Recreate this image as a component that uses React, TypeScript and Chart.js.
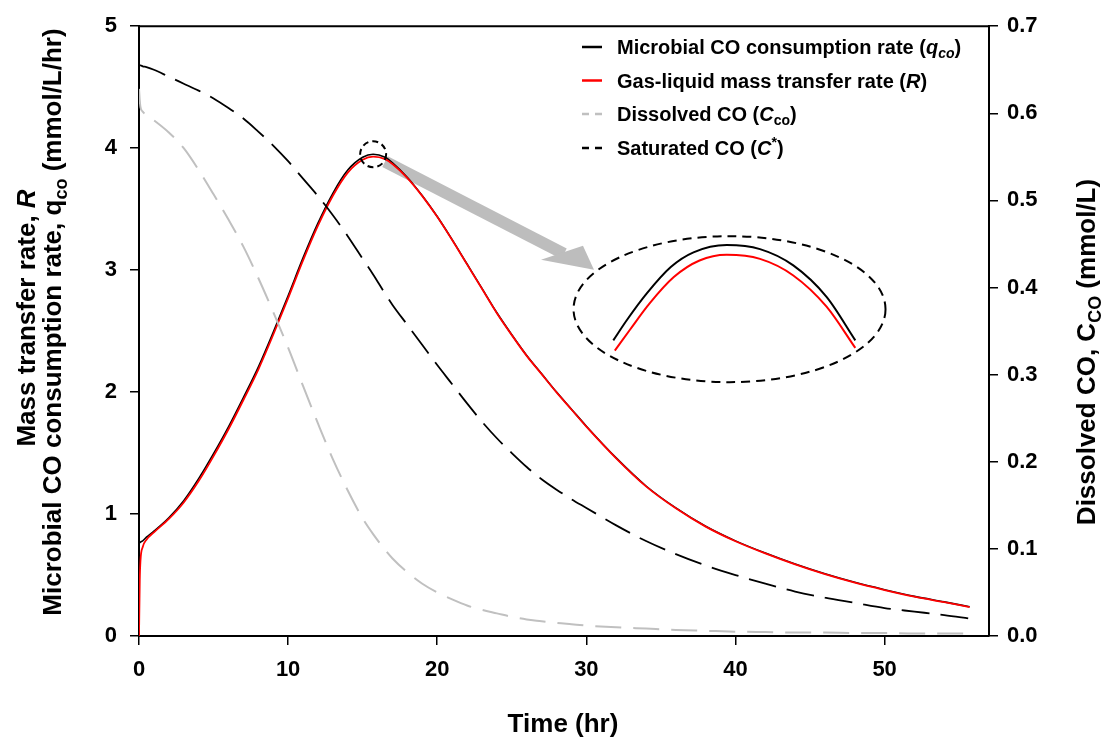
import React, { useEffect, useRef } from "react";
import { Chart, registerables } from "chart.js";

Chart.register(...registerables);

// ---------------- data ----------------
const time = [0, 0.05, 0.1, 0.25, 0.5, 1, 2, 3, 4, 5, 6, 7, 8, 9, 10, 11, 12, 13, 14, 15, 15.7, 16.5, 17, 18, 19, 20, 21, 22, 23, 24, 25, 26, 27, 28, 29, 30, 32, 34, 36, 38, 40, 42, 44, 46, 48, 50, 52, 54, 55.7];

// Microbial CO consumption rate q_co (mmol/L/hr)
const qco = [0.76, 0.765, 0.77, 0.78, 0.81, 0.86, 0.97, 1.11, 1.29, 1.495, 1.715, 1.955, 2.205, 2.49, 2.79, 3.1, 3.385, 3.63, 3.82, 3.925, 3.95, 3.925, 3.88, 3.76, 3.61, 3.44, 3.25, 3.05, 2.85, 2.65, 2.47, 2.3, 2.15, 2.0, 1.86, 1.72, 1.46, 1.23, 1.05, 0.9, 0.78, 0.68, 0.59, 0.51, 0.44, 0.38, 0.325, 0.28, 0.24];

// Gas-liquid mass transfer rate R (mmol/L/hr)
const rateR = [0.0, 0.45, 0.62, 0.73, 0.79, 0.85, 0.96, 1.095, 1.27, 1.475, 1.695, 1.935, 2.185, 2.47, 2.77, 3.08, 3.365, 3.61, 3.8, 3.905, 3.93, 3.91, 3.87, 3.755, 3.607, 3.437, 3.247, 3.047, 2.847, 2.647, 2.467, 2.297, 2.147, 1.997, 1.857, 1.717, 1.457, 1.227, 1.047, 0.897, 0.777, 0.677, 0.587, 0.507, 0.437, 0.377, 0.322, 0.277, 0.237];

// Saturated CO C* (mmol/L)
const cSat = [0.655, 0.655, 0.655, 0.654, 0.653, 0.65, 0.642, 0.634, 0.626, 0.617, 0.606, 0.594, 0.579, 0.563, 0.545, 0.525, 0.505, 0.483, 0.459, 0.433, 0.415, 0.393, 0.38, 0.357, 0.334, 0.311, 0.289, 0.267, 0.246, 0.227, 0.21, 0.194, 0.18, 0.168, 0.157, 0.147, 0.127, 0.109, 0.094, 0.081, 0.07, 0.06, 0.051, 0.044, 0.038, 0.032, 0.028, 0.024, 0.02];

// Dissolved CO C_co (mmol/L)
const cDis = [0.628, 0.615, 0.607, 0.602, 0.598, 0.592, 0.578, 0.56, 0.535, 0.507, 0.478, 0.447, 0.411, 0.372, 0.331, 0.287, 0.244, 0.203, 0.167, 0.135, 0.117, 0.099, 0.089, 0.073, 0.06, 0.05, 0.042, 0.035, 0.03, 0.026, 0.022, 0.019, 0.017, 0.015, 0.0135, 0.012, 0.01, 0.0085, 0.007, 0.006, 0.005, 0.0045, 0.004, 0.004, 0.0035, 0.0035, 0.003, 0.003, 0.003];

// magnified inset of the peak region
const insetTimeQ = [14.9, 14.99, 15.12, 15.28, 15.43, 15.65, 15.87, 16.09, 16.31, 16.5];
const insetQ = [3.9149, 3.9224, 3.9321, 3.9419, 3.9473, 3.95, 3.9485, 3.9425, 3.9309, 3.9149];
const insetTimeR = [14.91, 15.01, 15.14, 15.3, 15.47, 15.65, 15.87, 16.09, 16.31, 16.5];
const insetR = [3.9111, 3.9188, 3.9285, 3.9382, 3.9443, 3.9464, 3.9449, 3.9388, 3.9273, 3.9121];

const xTicks = [0, 10, 20, 30, 40, 50];
const yTicks = [0, 1, 2, 3, 4, 5];
const y2Ticks = [0, 0.1, 0.2, 0.3, 0.4, 0.5, 0.6, 0.7];

const seriesLabels = [
  "Microbial CO consumption rate (qco)",
  "Gas-liquid mass transfer rate (R)",
  "Dissolved CO (Cco)",
  "Saturated CO (C*)",
];

// ---------------- styling / layout ----------------
const FONT = '"Liberation Sans", Arial, Helvetica, sans-serif';
const W = 1106;
const H = 744;
const AREA = { left: 139, right: 989, top: 20, bottom: 636 };
const GRAY = "#c0c0c0";
const ARROW_GRAY = "#bdbdbd";

const INSET_X = { min: 11.764, max: 17.384 };
const INSET_Y = { min: 3.806, max: 4.0306 };

const DECOR = {
  circle: { t: 15.7, v: 3.95, r: 13 },
  ellipse: { t: 39.6, v: 2.68, rx: 156, ry: 73 },
  arrowFrom: { t: 16.5, v: 3.89 },
  arrowTip: { t: 30.51, v: 3.003 },
  barbA: [-53, -10],
  barbB: [-11, -24],
  shaft: 12,
};

type Seg = { t: string; it?: boolean; sub?: boolean; sup?: boolean };

function fontFor(size: number, s: Seg) {
  const sz = s.sub || s.sup ? Math.round(size * 0.68) : size;
  return `${s.it ? "italic " : ""}bold ${sz}px ${FONT}`;
}
function richWidth(ctx: CanvasRenderingContext2D, segs: Seg[], size: number) {
  let w = 0;
  for (const s of segs) {
    ctx.font = fontFor(size, s);
    w += ctx.measureText(s.t).width;
  }
  return w;
}
function drawRich(
  ctx: CanvasRenderingContext2D,
  segs: Seg[],
  x: number,
  y: number,
  size: number,
  align: "left" | "center"
) {
  const w = richWidth(ctx, segs, size);
  let cx = align === "center" ? x - w / 2 : x;
  ctx.textAlign = "left";
  ctx.textBaseline = "alphabetic";
  for (const s of segs) {
    ctx.font = fontFor(size, s);
    const dy = s.sub ? size * 0.22 : s.sup ? -size * 0.38 : 0;
    ctx.fillText(s.t, cx, y + dy);
    cx += ctx.measureText(s.t).width;
  }
}

const legendItems: { segs: Seg[]; color: string; dash: number[] }[] = [
  { segs: [{ t: "Microbial CO consumption rate (" }, { t: "q", it: true }, { t: "co", it: true, sub: true }, { t: ")" }], color: "#000", dash: [] },
  { segs: [{ t: "Gas-liquid mass transfer rate (" }, { t: "R", it: true }, { t: ")" }], color: "#ff0000", dash: [] },
  { segs: [{ t: "Dissolved CO (" }, { t: "C", it: true }, { t: "co", sub: true }, { t: ")" }], color: GRAY, dash: [7, 6] },
  { segs: [{ t: "Saturated CO (" }, { t: "C", it: true }, { t: "*", sup: true }, { t: ")" }], color: "#000", dash: [7, 6] },
];

const overlayPlugin = {
  id: "overlay",
  beforeDatasetsDraw(chart: any) {
    const ctx: CanvasRenderingContext2D = chart.ctx;
    const xs = chart.scales.x;
    const ys = chart.scales.y;
    const sx = xs.getPixelForValue(DECOR.arrowFrom.t);
    const sy = ys.getPixelForValue(DECOR.arrowFrom.v);
    const tx = xs.getPixelForValue(DECOR.arrowTip.t);
    const ty = ys.getPixelForValue(DECOR.arrowTip.v);
    const ax = tx + DECOR.barbA[0], ay = ty + DECOR.barbA[1];
    const bx = tx + DECOR.barbB[0], by = ty + DECOR.barbB[1];
    const mx = (ax + bx) / 2, my = (ay + by) / 2;
    ctx.save();
    ctx.strokeStyle = ARROW_GRAY;
    ctx.fillStyle = ARROW_GRAY;
    ctx.lineWidth = DECOR.shaft;
    ctx.lineCap = "butt";
    ctx.beginPath();
    ctx.moveTo(sx, sy);
    ctx.lineTo(mx + 2, my + 1);
    ctx.stroke();
    ctx.beginPath();
    ctx.moveTo(tx, ty);
    ctx.lineTo(ax, ay);
    ctx.lineTo(bx, by);
    ctx.closePath();
    ctx.fill();
    ctx.restore();
  },
  afterDatasetsDraw(chart: any) {
    const ctx: CanvasRenderingContext2D = chart.ctx;
    const a = chart.chartArea;
    const xs = chart.scales.x;
    const ys = chart.scales.y;
    ctx.save();
    // top frame line
    ctx.strokeStyle = "#000";
    ctx.lineWidth = 2;
    ctx.beginPath();
    ctx.moveTo(a.left - 1, a.top);
    ctx.lineTo(a.right + 1, a.top);
    ctx.stroke();

    // small dashed circle around the peak
    ctx.lineWidth = 2;
    ctx.setLineDash([6, 4]);
    ctx.beginPath();
    ctx.arc(xs.getPixelForValue(DECOR.circle.t), ys.getPixelForValue(DECOR.circle.v), DECOR.circle.r, 0, Math.PI * 2);
    ctx.stroke();

    // inset ellipse
    ctx.setLineDash([9, 6]);
    ctx.beginPath();
    ctx.ellipse(
      xs.getPixelForValue(DECOR.ellipse.t),
      ys.getPixelForValue(DECOR.ellipse.v),
      DECOR.ellipse.rx,
      DECOR.ellipse.ry,
      0,
      0,
      Math.PI * 2
    );
    ctx.stroke();

    // legend
    const rows = [54, 87.5, 121, 155];
    legendItems.forEach((it, i) => {
      const yb = rows[i];
      ctx.strokeStyle = it.color;
      ctx.lineWidth = 2.5;
      ctx.setLineDash(it.dash);
      ctx.beginPath();
      ctx.moveTo(582, yb - 7);
      ctx.lineTo(602, yb - 7);
      ctx.stroke();
      ctx.setLineDash([]);
      ctx.fillStyle = "#000";
      drawRich(ctx, it.segs, 617, yb, 20, "left");
    });
    ctx.restore();
  },
  afterDraw(chart: any) {
    const ctx: CanvasRenderingContext2D = chart.ctx;
    ctx.save();
    ctx.fillStyle = "#000";
    // x title
    drawRich(ctx, [{ t: "Time (hr)" }], 563, 732, 26, "center");
    // left title (two lines)
    ctx.save();
    ctx.translate(35, 318);
    ctx.rotate(-Math.PI / 2);
    drawRich(ctx, [{ t: "Mass transfer rate, " }, { t: "R", it: true }], 0, 0, 26, "center");
    ctx.restore();
    ctx.save();
    ctx.translate(61, 322);
    ctx.rotate(-Math.PI / 2);
    drawRich(
      ctx,
      [{ t: "Microbial CO consumption rate, " }, { t: "q" }, { t: "co", sub: true }, { t: " (mmol/L/hr)" }],
      0,
      0,
      26,
      "center"
    );
    ctx.restore();
    // right title
    ctx.save();
    ctx.translate(1095, 352);
    ctx.rotate(-Math.PI / 2);
    drawRich(ctx, [{ t: "Dissolved CO, " }, { t: "C" }, { t: "CO", sub: true }, { t: " (mmol/L)" }], 0, 0, 26, "center");
    ctx.restore();
    ctx.restore();
  },
};

const tickFont = { family: FONT, size: 22, weight: "bold" as const };

function pts(xa: number[], ya: number[]) {
  return xa.map((x, i) => ({ x, y: ya[i] }));
}

export default function App() {
  const ref = useRef<HTMLCanvasElement>(null);

  useEffect(() => {
    if (!ref.current) return;
    const chart = new Chart(ref.current, {
      type: "line",
      data: {
        datasets: [
          {
            label: seriesLabels[3],
            data: pts(time, cSat),
            yAxisID: "y2",
            borderColor: "#000",
            borderWidth: 1.8,
            borderDash: [28, 11],
            pointRadius: 0,
            cubicInterpolationMode: "monotone",
          },
          {
            label: seriesLabels[2],
            data: pts(time, cDis),
            yAxisID: "y2",
            borderColor: GRAY,
            borderWidth: 2,
            borderDash: [26, 12],
            pointRadius: 0,
            cubicInterpolationMode: "monotone",
          },
          {
            label: seriesLabels[1],
            data: pts(time, rateR),
            yAxisID: "y",
            borderColor: "#ff0000",
            borderWidth: 1.8,
            pointRadius: 0,
            cubicInterpolationMode: "monotone",
          },
          {
            label: seriesLabels[0],
            data: pts(time, qco),
            yAxisID: "y",
            borderColor: "#000",
            borderWidth: 1.6,
            pointRadius: 0,
            cubicInterpolationMode: "monotone",
          },
          {
            label: seriesLabels[0] + " (inset)",
            data: pts(insetTimeQ, insetQ),
            xAxisID: "xi",
            yAxisID: "yi",
            borderColor: "#000",
            borderWidth: 2,
            pointRadius: 0,
            cubicInterpolationMode: "monotone",
          },
          {
            label: seriesLabels[1] + " (inset)",
            data: pts(insetTimeR, insetR),
            xAxisID: "xi",
            yAxisID: "yi",
            borderColor: "#ff0000",
            borderWidth: 2,
            pointRadius: 0,
            cubicInterpolationMode: "monotone",
          },
        ],
      },
      options: {
        responsive: false,
        animation: false,
        events: [],
        layout: { padding: { top: AREA.top, left: 0, right: 0, bottom: 0 } },
        plugins: { legend: { display: false }, tooltip: { enabled: false } },
        scales: {
          x: {
            type: "linear",
            position: "bottom",
            min: 0,
            max: 57,
            afterBuildTicks: (s: any) => {
              s.ticks = xTicks.map((v) => ({ value: v }));
            },
            afterFit: (s: any) => {
              s.height = H - AREA.bottom;
            },
            ticks: { font: tickFont, color: "#000", padding: 12, maxRotation: 0 },
            grid: { drawOnChartArea: false, drawTicks: true, tickLength: 9, color: "#000", lineWidth: 1.5 },
            border: { display: true, color: "#000", width: 2 },
          },
          y: {
            type: "linear",
            position: "left",
            min: 0,
            max: 5,
            afterBuildTicks: (s: any) => {
              s.ticks = yTicks.map((v) => ({ value: v }));
            },
            afterFit: (s: any) => {
              s.width = AREA.left;
            },
            ticks: { font: tickFont, color: "#000", padding: 13 },
            grid: { drawOnChartArea: false, drawTicks: true, tickLength: 9, color: "#000", lineWidth: 1.5 },
            border: { display: true, color: "#000", width: 2 },
          },
          y2: {
            type: "linear",
            position: "right",
            min: 0,
            max: 0.7,
            afterBuildTicks: (s: any) => {
              s.ticks = y2Ticks.map((v) => ({ value: v }));
            },
            afterFit: (s: any) => {
              s.width = W - AREA.right;
            },
            ticks: {
              font: tickFont,
              color: "#000",
              padding: 9,
              callback: (v: any) => Number(v).toFixed(1),
            },
            grid: { drawOnChartArea: false, drawTicks: true, tickLength: 9, color: "#000", lineWidth: 1.5 },
            border: { display: true, color: "#000", width: 2 },
          },
          xi: {
            type: "linear",
            display: false,
            position: "bottom",
            min: INSET_X.min,
            max: INSET_X.max,
          },
          yi: {
            type: "linear",
            display: false,
            position: "left",
            min: INSET_Y.min,
            max: INSET_Y.max,
          },
        },
      } as any,
      plugins: [overlayPlugin],
    });
    return () => chart.destroy();
  }, []);

  return (
    <div style={{ position: "absolute", left: 0, top: 0, width: W, height: H, background: "#fff" }}>
      <canvas ref={ref} width={W} height={H} style={{ display: "block" }} />
    </div>
  );
}
